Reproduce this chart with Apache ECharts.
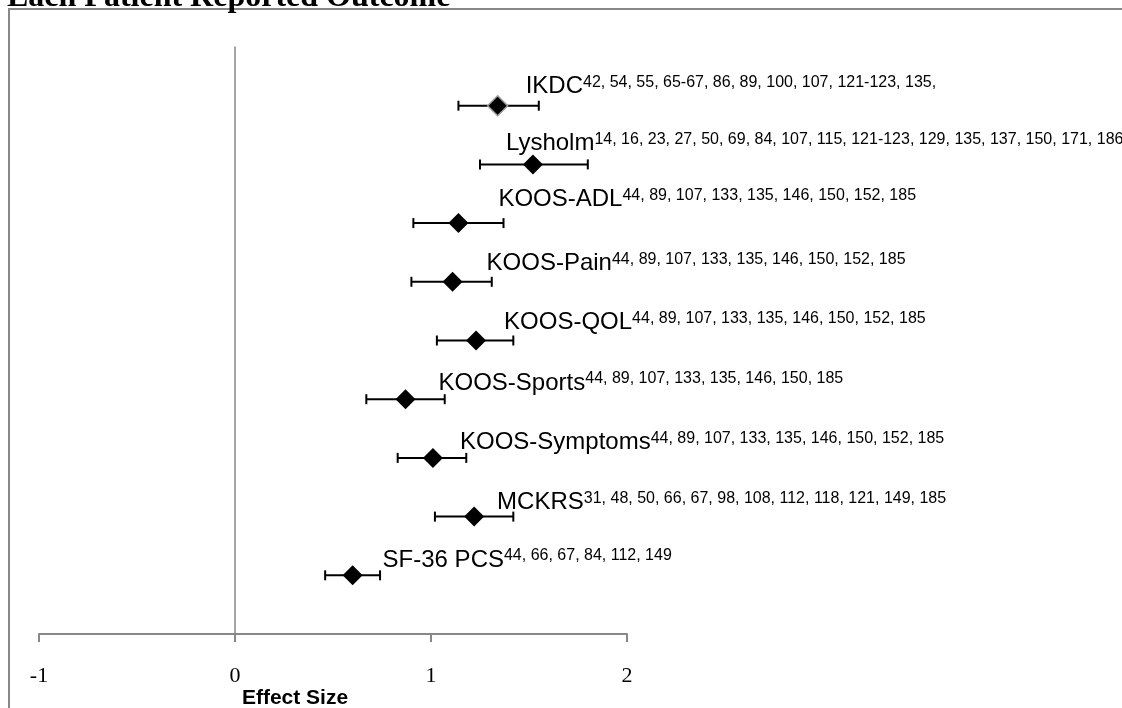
<!DOCTYPE html>
<html><head><meta charset="utf-8">
<script src="https://cdn.jsdelivr.net/npm/echarts@6/dist/echarts.min.js"></script>
<style>html,body{margin:0;padding:0;background:#fff}#c{width:1122px;height:708px}</style>
</head><body><div id="c"></div>
<script>
// ---- data ----
const categories = ['IKDC','Lysholm','KOOS-ADL','KOOS-Pain','KOOS-QOL','KOOS-Sports','KOOS-Symptoms','MCKRS','SF-36 PCS'];
const references = [
  '42, 54, 55, 65-67, 86, 89, 100, 107, 121-123, 135,',
  '14, 16, 23, 27, 50, 69, 84, 107, 115, 121-123, 129, 135, 137, 150, 171, 186',
  '44, 89, 107, 133, 135, 146, 150, 152, 185',
  '44, 89, 107, 133, 135, 146, 150, 152, 185',
  '44, 89, 107, 133, 135, 146, 150, 152, 185',
  '44, 89, 107, 133, 135, 146, 150, 185',
  '44, 89, 107, 133, 135, 146, 150, 152, 185',
  '31, 48, 50, 66, 67, 98, 108, 112, 118, 121, 149, 185',
  '44, 66, 67, 84, 112, 149'
];
const effectSize = [1.34, 1.52, 1.14, 1.11, 1.23, 0.87, 1.01, 1.22, 0.60];
const ciLower    = [1.14, 1.25, 0.91, 0.90, 1.03, 0.67, 0.83, 1.02, 0.46];
const ciUpper    = [1.55, 1.80, 1.37, 1.31, 1.42, 1.07, 1.18, 1.42, 0.74];
const xTickValues = [-1, 0, 1, 2];
const xTitle = 'Effect Size';
const chartTitle = 'Each Patient Reported Outcome';

// ---- layout (label anchor offsets from each point, px: [dx to text start, dy to baseline]) ----
const labelOffset = [[28,-11],[-27,-13],[40,-15],[34,-10],[28,-10],[33,-8],[27,-7],[23,-6],[30,-7]];

const n = categories.length;
const rows = categories.map((c, i) => [effectSize[i], ciLower[i], ciUpper[i], n - i, i]);

const chart = echarts.init(document.getElementById('c'), null, {renderer: 'canvas'});
const GRAY = '#888888';
chart.setOption({
  animation: false,
  backgroundColor: '#ffffff',
  grid: {left: 39, right: 495, top: 47, bottom: 74, containLabel: false},
  xAxis: {
    type: 'value', min: xTickValues[0], max: xTickValues[xTickValues.length - 1], interval: 1,
    axisLine: {show: true, lineStyle: {color: GRAY, width: 2}},
    axisTick: {show: true, inside: false, length: 8, lineStyle: {color: GRAY, width: 2}},
    axisLabel: {color: '#000', fontFamily: 'Liberation Serif', fontSize: 22, margin: 31},
    splitLine: {show: false}
  },
  yAxis: {
    type: 'value', min: 0, max: n + 1,
    axisLine: {show: true, onZero: true, lineStyle: {color: GRAY, width: 1.5}},
    axisTick: {show: false}, axisLabel: {show: false}, splitLine: {show: false}
  },
  graphic: [
    {type: 'rect', z: -1, shape: {x: 9, y: 9, width: 1130, height: 720}, style: {fill: 'none', stroke: GRAY, lineWidth: 2}},
    {type: 'text', x: 7, y: 14, style: {text: chartTitle, font: 'bold 32px "Liberation Serif"', fill: '#000', align: 'left', verticalAlign: 'bottom'}},
    {type: 'text', x: 295, y: 709, style: {text: xTitle, font: 'bold 21px "Liberation Sans"', fill: '#000', align: 'center', verticalAlign: 'bottom'}}
  ],
  series: [
    {
      type: 'custom',
      z: 2,
      data: rows,
      encode: {x: [0, 1, 2], y: 3},
      renderItem: function (params, api) {
        const i = api.value(4);
        const y = api.value(3);
        const pLo = api.coord([api.value(1), y]);
        const pHi = api.coord([api.value(2), y]);
        const pE = api.coord([api.value(0), y]);
        const cap = 5;
        const st = {stroke: '#000', lineWidth: 2};
        const off = labelOffset[i];
        return {
          type: 'group',
          children: [
            {type: 'line', shape: {x1: pLo[0], y1: pLo[1], x2: pHi[0], y2: pHi[1]}, style: st},
            {type: 'line', shape: {x1: pLo[0], y1: pLo[1] - cap, x2: pLo[0], y2: pLo[1] + cap}, style: st},
            {type: 'line', shape: {x1: pHi[0], y1: pHi[1] - cap, x2: pHi[0], y2: pHi[1] + cap}, style: st},
            {
              type: 'text',
              x: pE[0] + off[0], y: pE[1] + off[1] - 20.3,
              style: {
                text: '{a|' + categories[i] + '}{b|' + references[i] + '}',
                align: 'left', verticalAlign: 'top',
                rich: {
                  a: {fontFamily: 'Liberation Sans', fontSize: 24, lineHeight: 24, fill: '#000', verticalAlign: 'middle'},
                  b: {fontFamily: 'Liberation Sans', fontSize: 16, lineHeight: 16, fill: '#000', verticalAlign: 'top'}
                }
              }
            }
          ]
        };
      }
    },
    {
      type: 'scatter',
      z: 3,
      symbol: 'diamond',
      symbolSize: [20, 20],
      data: rows.map((r, i) => ({
        value: [r[0], r[3]],
        itemStyle: i === 0 ? {color: '#000', borderColor: '#9a9a9a', borderWidth: 1.5} : {color: '#000'}
      })),
      itemStyle: {color: '#000', opacity: 1}
    }
  ]
});
</script>
</body></html>
